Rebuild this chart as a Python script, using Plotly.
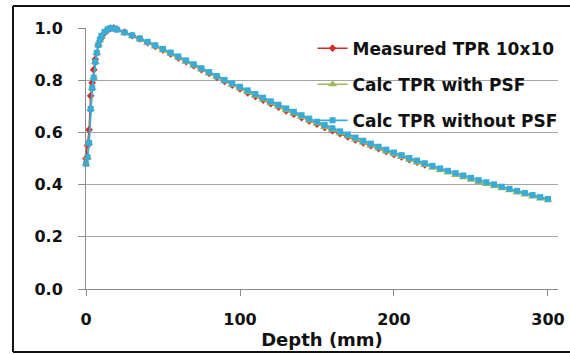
import plotly.graph_objects as go

# ---- data ----
depth_meas = [0, 1, 2, 3, 4, 5, 6, 8, 10, 12, 14, 16, 18, 20, 25, 30, 35, 40, 45, 50,
              55, 60, 65, 70, 75, 80, 85, 90, 95, 100, 105, 110, 115, 120, 125, 130,
              135, 140, 145, 150, 155, 160, 165, 170, 175, 180, 185, 190, 195, 200,
              205, 210, 215, 220]
tpr_meas = [0.500, 0.550, 0.610, 0.740, 0.790, 0.840, 0.880, 0.935, 0.962, 0.980, 0.992,
            0.999, 1.000, 0.996, 0.984, 0.971, 0.958, 0.944, 0.930, 0.916, 0.901, 0.886,
            0.871, 0.856, 0.841, 0.826, 0.811, 0.796, 0.781, 0.767, 0.752, 0.738, 0.724,
            0.710, 0.697, 0.683, 0.670, 0.657, 0.644, 0.632, 0.619, 0.607, 0.595, 0.583,
            0.571, 0.560, 0.549, 0.538, 0.527, 0.516, 0.506, 0.496, 0.486, 0.476]

depth_calc = [0, 1, 2, 3, 4, 5, 6, 7, 8, 9, 10, 12, 14, 16, 18, 20, 25, 30, 35, 40, 45,
              50, 55, 60, 65, 70, 75, 80, 85, 90, 95, 100, 105, 110, 115, 120, 125, 130,
              135, 140, 145, 150, 155, 160, 165, 170, 175, 180, 185, 190, 195, 200, 205,
              210, 215, 220, 225, 230, 235, 240, 245, 250, 255, 260, 265, 270, 275, 280,
              285, 290, 295, 300]
tpr_with_psf = [0.480, 0.505, 0.560, 0.690, 0.770, 0.810, 0.870, 0.905, 0.935, 0.955,
                0.970, 0.985, 0.995, 1.000, 0.998, 0.993, 0.981, 0.969, 0.956, 0.943,
                0.929, 0.915, 0.901, 0.886, 0.871, 0.856, 0.841, 0.826, 0.811, 0.796,
                0.782, 0.768, 0.754, 0.740, 0.726, 0.712, 0.699, 0.685, 0.672, 0.659,
                0.646, 0.634, 0.621, 0.609, 0.597, 0.585, 0.573, 0.561, 0.550, 0.538,
                0.527, 0.516, 0.506, 0.495, 0.485, 0.475, 0.465, 0.455, 0.446, 0.437,
                0.428, 0.419, 0.410, 0.402, 0.394, 0.386, 0.378, 0.370, 0.362, 0.354,
                0.347, 0.340]
tpr_without_psf = [0.480, 0.505, 0.560, 0.690, 0.770, 0.810, 0.870, 0.905, 0.935, 0.955,
                   0.970, 0.985, 0.995, 1.000, 0.998, 0.994, 0.983, 0.972, 0.960, 0.947,
                   0.934, 0.920, 0.906, 0.891, 0.876, 0.861, 0.846, 0.831, 0.816, 0.801,
                   0.788, 0.775, 0.761, 0.747, 0.733, 0.719, 0.706, 0.692, 0.679, 0.666,
                   0.653, 0.641, 0.628, 0.616, 0.604, 0.592, 0.580, 0.568, 0.557, 0.545,
                   0.534, 0.523, 0.513, 0.502, 0.492, 0.482, 0.472, 0.462, 0.453, 0.444,
                   0.435, 0.426, 0.417, 0.409, 0.401, 0.392, 0.384, 0.376, 0.368, 0.360,
                   0.352, 0.345]

names = ["Measured TPR 10x10", "Calc TPR with PSF", "Calc TPR without PSF"]
x_ticks = [0, 100, 200, 300]
y_ticks = [0.0, 0.2, 0.4, 0.6, 0.8, 1.0]
y_tick_labels = ["0.0", "0.2", "0.4", "0.6", "0.8", "1.0"]

FONT = "DejaVu Sans"

fig = go.Figure()
fig.add_trace(go.Scatter(x=depth_meas, y=tpr_meas, name=names[0], mode="lines+markers",
                         line=dict(color="#d42a2a", width=1.5),
                         marker=dict(symbol="diamond", size=6, color="#d42a2a"),
                         legendgroup="a", cliponaxis=False))
fig.add_trace(go.Scatter(x=depth_calc, y=tpr_with_psf, name=names[1], mode="lines+markers",
                         line=dict(color="#9bbb59", width=1.5),
                         marker=dict(symbol="triangle-up", size=8, color="#9bbb59"),
                         legendgroup="b", cliponaxis=False))
fig.add_trace(go.Scatter(x=depth_calc, y=tpr_without_psf, name=names[2], mode="lines+markers",
                         line=dict(color="#3aaad6", width=1.8),
                         marker=dict(symbol="square", size=6, color="#3aaad6"),
                         legendgroup="c", cliponaxis=False))

fig.update_layout(
    width=570, height=354,
    margin=dict(l=86, r=12, t=28, b=65, autoexpand=False),
    paper_bgcolor="white", plot_bgcolor="white",
    font=dict(family=FONT, color="#111111"),
    showlegend=True,
    legend=dict(x=0.48, y=0.99, xanchor="left", yanchor="top",
                bgcolor="rgba(0,0,0,0)", font=dict(family=FONT, size=17, color="#111111",
                                                    weight="bold"),
                tracegroupgap=11, itemwidth=30),
    xaxis=dict(range=[0, 306.5], tickvals=x_ticks, ticks="outside", ticklen=6,
               tickcolor="#8c8c8c", showline=True, linecolor="#8c8c8c", linewidth=1,
               showgrid=False, zeroline=False, ticklabelstandoff=10,
               tickfont=dict(family=FONT, size=16, color="#111111", weight="bold"),
               title=dict(text="Depth (mm)", standoff=0,
                          font=dict(family=FONT, size=18, color="#111111", weight="bold"))),
    yaxis=dict(range=[0, 1.0], tickvals=y_ticks, ticktext=y_tick_labels, ticks="outside",
               ticklen=7, tickcolor="#8c8c8c", showline=True, linecolor="#8c8c8c",
               linewidth=1, showgrid=True, gridcolor="#a6a6a6", gridwidth=1,
               zeroline=False, ticklabelstandoff=12,
               tickfont=dict(family=FONT, size=16, color="#111111", weight="bold")),
)

# outer frame (left, top, bottom edges)
frame_line = dict(color="#111111", width=2)
fig.add_shape(type="line", xref="paper", yref="paper", line=frame_line,
              x0=-0.1547, x1=-0.1547, y0=-0.241, y1=1.084)
fig.add_shape(type="line", xref="paper", yref="paper", line=frame_line,
              x0=-0.1547, x1=1.03, y0=1.084, y1=1.084)
fig.add_shape(type="line", xref="paper", yref="paper", line=frame_line,
              x0=-0.1547, x1=1.03, y0=-0.241, y1=-0.241)

fig.write_html("out.html", config={"displayModeBar": False},
               post_script="document.body.style.margin='0';")
